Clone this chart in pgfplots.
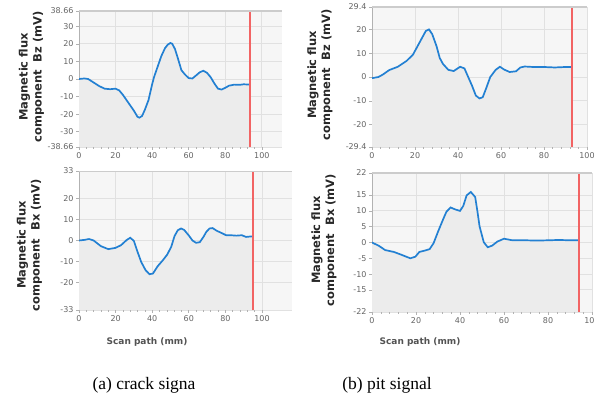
\documentclass[border=0pt]{standalone}
\usepackage{pgfplots}
\pgfplotsset{compat=1.18}
\usepackage{fontspec}
\setmainfont{DejaVu Sans}
\newfontfamily\capfont{Liberation Serif}
\definecolor{bgc}{RGB}{246,246,246}
\definecolor{fillc}{RGB}{236,236,236}
\definecolor{gridc}{RGB}{225,225,225}
\definecolor{bluec}{RGB}{35,128,210}
\definecolor{redc}{RGB}{242,100,100}
\definecolor{tickc}{RGB}{100,100,100}
\definecolor{labc}{RGB}{40,40,40}

\pgfplotstableread{
x y
0 0
3 0.3
5 0
8 -2
11 -4
14 -5.5
17 -5.8
20 -5.5
22 -6.5
24 -9
26 -12
28 -15
30 -18
32 -21.5
33 -22
34.5 -21
36 -17.5
38 -12
40 -3
41 1
43 7
45 13
47 17.5
48.5 19.5
50 20.5
51 20
52.5 17
54 12
56 5
58 2.5
60 0.5
62 0.3
64 2
66 3.8
68 4.7
70 3.5
72 1
74 -2.5
76 -5.5
78 -6
80 -5
82 -3.8
85 -3.2
88 -3.3
90 -3
93.4 -3.2
}\datA

\pgfplotstableread{
x y
0 -0.5
3 0
5 1
8 2.9
12 4.3
16 6.7
19 9.3
22 14.3
25 19.3
26.5 20
28 18
30 13
31.5 8
33 5.5
35.5 3
38 2.5
41 4.3
43 3.6
44.5 0.5
46.5 -3.6
48.3 -7.8
50 -9
51.5 -8.5
53 -5
55 0
57.5 3
59.5 4.3
61.5 3.1
64 2.1
67 2.4
69 4
71 4.4
75 4.2
80 4.2
85 4
90 4.2
93 4.2
}\datB

\pgfplotstableread{
x y
0 0
3 0.3
5.5 0.7
8 0
12 -2.7
16 -4.1
20 -3.5
23 -2.2
26 0.2
28 1.3
30 -0.2
32 -5.4
34 -10.2
36.4 -14.1
38.5 -16
40.4 -15.7
43 -12.2
45.8 -9.4
48.2 -6.7
50.4 -3
52.2 2.1
54 4.9
55.8 5.7
57.5 5
60 2.4
62 0
64 -1.1
66 -0.8
68 1.7
69.5 4
71.3 5.7
73 5.9
75.3 4.6
77.6 3.7
80.4 2.5
83 2.5
86 2.3
89 2.5
91.3 1.7
95 2
}\datC

\pgfplotstableread{
x y
0 0
3 -1
6 -2.4
10 -3
13.8 -4
17.4 -5
19.7 -4.5
21.5 -3
23.8 -2.6
26.2 -2.1
28 -0.2
30 3.4
32.3 7.3
33.8 9.7
35.7 11.1
37.7 10.5
40 10
41.5 11.6
43 14.9
44.9 16
46.9 14.4
48 9.5
48.9 5.1
50.8 0.1
52.6 -1.5
54.6 -1
57 0.3
60 1.2
63.8 0.7
70 0.7
75 0.6
80 0.7
85 0.8
90 0.7
94 0.7
}\datD

\pgfplotsset{
  panel/.style={
    scale only axis,
    anchor=south west,
    axis lines*=left,
    x axis line style={draw=none},
    y axis line style={draw=gray!60, line width=0.8pt},
    axis background/.style={fill=bgc},
    xmin=0,
    xtick={0,20,40,60,80,100},
    grid=major,
    major grid style={draw=gridc, line width=0.9pt},
    tick align=outside,
    major tick length=3pt,
    minor tick length=1.8pt,
    minor x tick num=4,
    minor y tick num=4,
    every tick/.style={draw=gray!60, line width=0.6pt},
    every minor tick/.style={draw=gray!60, line width=0.6pt},
    tick label style={font=\fontsize{8}{9}\selectfont, text=tickc},
    /pgf/number format/assume math mode=true,
    xticklabel style={yshift=1pt},
    yticklabel style={xshift=1pt},
  },
  curve/.style={draw=bluec, line width=1.7pt, no marks},
  under/.style={fill=fillc, draw=none, no marks},
  vmark/.style={draw=redc, line width=1.4pt, no marks},
}

\begin{document}
\begin{tikzpicture}
\useasboundingbox (0pt,0pt) rectangle (595pt,399pt);

% (a) top: Bz crack
\begin{axis}[panel, at={(79pt,252pt)}, width=203pt, height=136pt,
  xmax=111, ymin=-38.66, ymax=38.66,
  ytick={-38.66,-30,-20,-10,0,10,20,30,38.66},
  yticklabels={-38.66,-30,-20,-10,0,10,20,30,38.66}]
\addplot[under] table {\datA} |- (axis cs:0,-38.66) -- cycle;
\addplot[curve] table {\datA};
\addplot[vmark] coordinates {(93.4,-38.66) (93.4,38.66)};
\draw[gray!40, line width=1.6pt] (rel axis cs:0,1) -- (rel axis cs:1,1);
\end{axis}

% (b) top: Bz pit
\begin{axis}[panel, at={(372pt,252pt)}, width=215pt, height=140pt,
  xmax=100, ymin=-29.4, ymax=29.4,
  ytick={-29.4,-20,-10,0,10,20,29.4},
  yticklabels={-29.4,-20,-10,0,10,20,29.4}]
\addplot[under] table {\datB} |- (axis cs:0,-29.4) -- cycle;
\addplot[curve] table {\datB};
\addplot[vmark] coordinates {(93,-29.4) (93,29.4)};
\draw[gray!40, line width=1.6pt] (rel axis cs:0,1) -- (rel axis cs:1,1);
\end{axis}

% (a) bottom: Bx crack
\begin{axis}[panel, at={(79pt,89pt)}, width=213pt, height=139pt,
  xmax=116.4, ymin=-33, ymax=33,
  ytick={-33,-20,-10,0,10,20,33},
  yticklabels={-33,-20,-10,0,10,20,33}]
\addplot[under] table {\datC} |- (axis cs:0,-33) -- cycle;
\addplot[curve] table {\datC};
\addplot[vmark] coordinates {(95,-33) (95,33)};
\draw[gray!40, line width=1.6pt] (rel axis cs:0,1) -- (rel axis cs:1,1);
\end{axis}

% (b) bottom: Bx pit
\begin{axis}[panel, at={(372pt,87pt)}, width=220pt, height=139pt,
  xmax=100, ymin=-22, ymax=22,
  ytick={-22,-15,-10,-5,0,5,10,15,22},
  yticklabels={-22,-15,-10,-5,0,5,10,15,22}]
\addplot[under] table {\datD} |- (axis cs:0,-22) -- cycle;
\addplot[curve] table {\datD};
\addplot[vmark] coordinates {(94,-22) (94,22)};
\draw[gray!40, line width=1.6pt] (rel axis cs:0,1) -- (rel axis cs:1,1);
\end{axis}

% y labels
\tikzset{ylab/.style={rotate=90, align=center, text=labc,
  font=\fontsize{11.5}{14}\selectfont\bfseries}}
\node[ylab] at (31.5pt,322pt) {Magnetic flux\\component~~Bz (mV)};
\node[ylab] at (320pt,324pt) {Magnetic flux\\component~~Bz (mV)};
\node[ylab] at (29.5pt,154pt) {Magnetic flux\\component~~Bx (mV)};
\node[ylab] at (324pt,159pt) {Magnetic flux\\component~~Bx (mV)};

% x labels
\tikzset{xlab/.style={text=labc!80, font=\fontsize{9}{10}\selectfont\bfseries}}
\node[xlab] at (147pt,57pt) {Scan path (mm)};
\node[xlab] at (420pt,57pt) {Scan path (mm)};

% captions
\node[font=\capfont\fontsize{17.5}{20}\selectfont] at (144pt,14pt) {(a) crack signa};
\node[font=\capfont\fontsize{17.5}{20}\selectfont] at (387pt,14pt) {(b) pit signal};
\end{tikzpicture}
\end{document}
